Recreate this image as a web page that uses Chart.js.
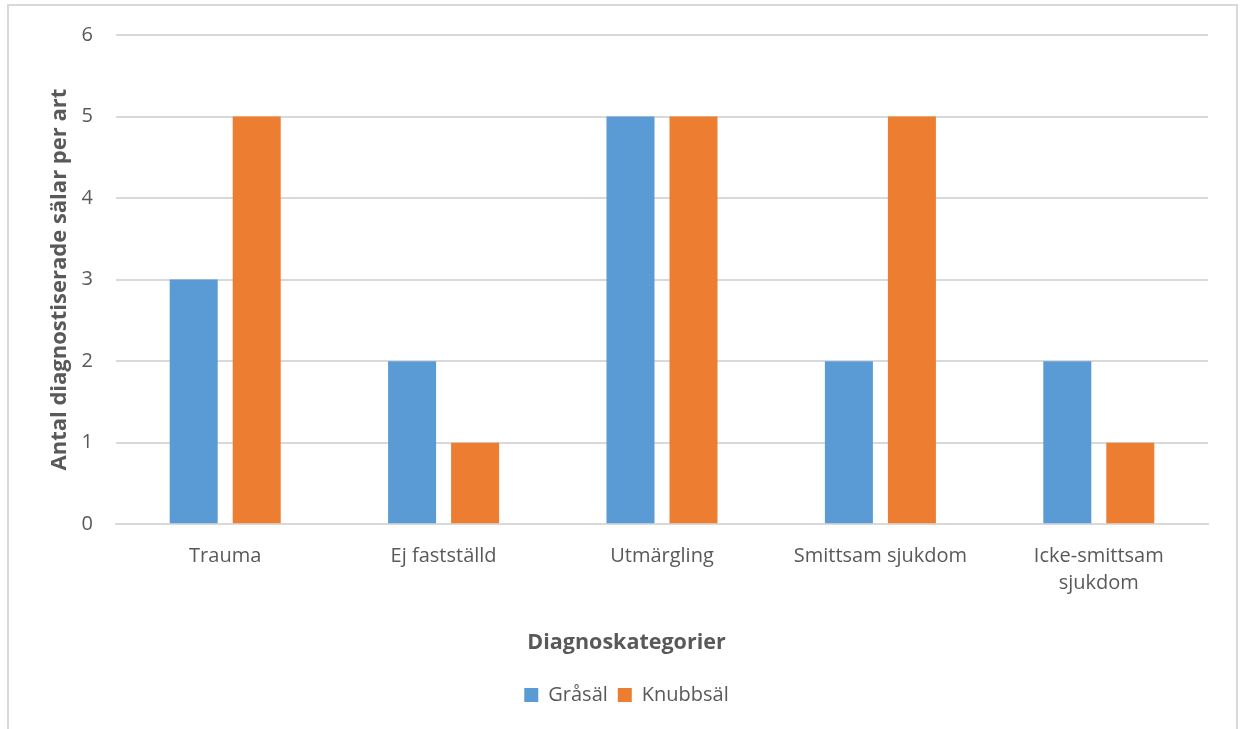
<!DOCTYPE html>
<html>
<head>
<meta charset="utf-8">
<script src="https://cdn.jsdelivr.net/npm/chart.js@4"></script>
<style>
  html, body { margin: 0; padding: 0; background: #ffffff; }
  #wrap { position: relative; width: 1242px; height: 729px; }
</style>
</head>
<body>
<div id="wrap"><canvas id="c" width="1242" height="729"></canvas></div>
<script>
// Diagnosis categories and number of diagnosed seals per species
const categories = ['Trauma', 'Ej fastställd', 'Utmärgling', 'Smittsam sjukdom', ['Icke-smittsam', 'sjukdom']];
const grasal = [3, 2, 5, 2, 2];
const knubbsal = [5, 1, 5, 5, 1];
const yTicks = [0, 1, 2, 3, 4, 5, 6];

const textGrey = '#595959';
const gridGrey = '#d9d9d9';
const fontFamily = '"Open Sans", "Noto Sans", sans-serif';

// Thin frame around the chart (top, left and right edges)
const framePlugin = {
  id: 'frame',
  beforeDraw(chart) {
    const ctx = chart.ctx;
    ctx.save();
    ctx.fillStyle = '#ffffff';
    ctx.fillRect(0, 0, chart.width, chart.height);
    ctx.strokeStyle = gridGrey;
    ctx.lineWidth = 2;
    ctx.beginPath();
    ctx.moveTo(8, chart.height);
    ctx.lineTo(8, 5);
    ctx.lineTo(1237, 5);
    ctx.lineTo(1237, chart.height);
    ctx.stroke();
    ctx.restore();
  }
};

new Chart(document.getElementById('c'), {
  type: 'bar',
  data: {
    labels: categories,
    datasets: [
      { label: 'Gråsäl', data: grasal, backgroundColor: '#5B9BD5', barPercentage: 0.762, categoryPercentage: 0.577 },
      { label: 'Knubbsäl', data: knubbsal, backgroundColor: '#ED7D31', barPercentage: 0.762, categoryPercentage: 0.577 }
    ]
  },
  options: {
    responsive: false,
    animation: false,
    devicePixelRatio: 1,
    layout: { padding: { left: 45, right: 34, top: 34, bottom: 14 } },
    plugins: {
      tooltip: { enabled: false },
      // x-axis caption, centred under the whole chart, between axis and legend
      title: {
        display: true,
        text: 'Diagnoskategorier',
        position: 'bottom',
        weight: 500,
        color: textGrey,
        padding: { top: 33, bottom: 19 },
        font: { family: fontFamily, size: 21.5, weight: 'bold', lineHeight: 1.2 }
      },
      legend: {
        position: 'bottom',
        labels: {
          boxWidth: 14,
          boxHeight: 14,
          padding: 10,
          color: textGrey,
          font: { family: fontFamily, size: 20 }
        }
      }
    },
    scales: {
      x: {
        grid: { display: false, drawTicks: false },
        border: { display: true, color: gridGrey, width: 2 },
        ticks: {
          color: textGrey,
          padding: 19,
          maxRotation: 0,
          autoSkip: false,
          font: { family: fontFamily, size: 20, lineHeight: 1.35 }
        },
        afterFit(scale) { scale.height = 73; }
      },
      y: {
        min: 0,
        max: 6,
        afterBuildTicks(scale) { scale.ticks = yTicks.map(v => ({ value: v })); },
        grid: { color: gridGrey, lineWidth: 2, drawTicks: false },
        border: { display: false },
        ticks: {
          color: textGrey,
          padding: 23,
          font: { family: fontFamily, size: 20 }
        },
        title: {
          display: true,
          text: 'Antal diagnostiserade sälar per art',
          color: textGrey,
          padding: { top: 2, bottom: 0 },
          font: { family: fontFamily, size: 22, weight: 'bold', lineHeight: 1.2 }
        },
        afterFit(scale) { scale.width = 71; }
      }
    }
  },
  plugins: [framePlugin]
});
</script>
</body>
</html>
